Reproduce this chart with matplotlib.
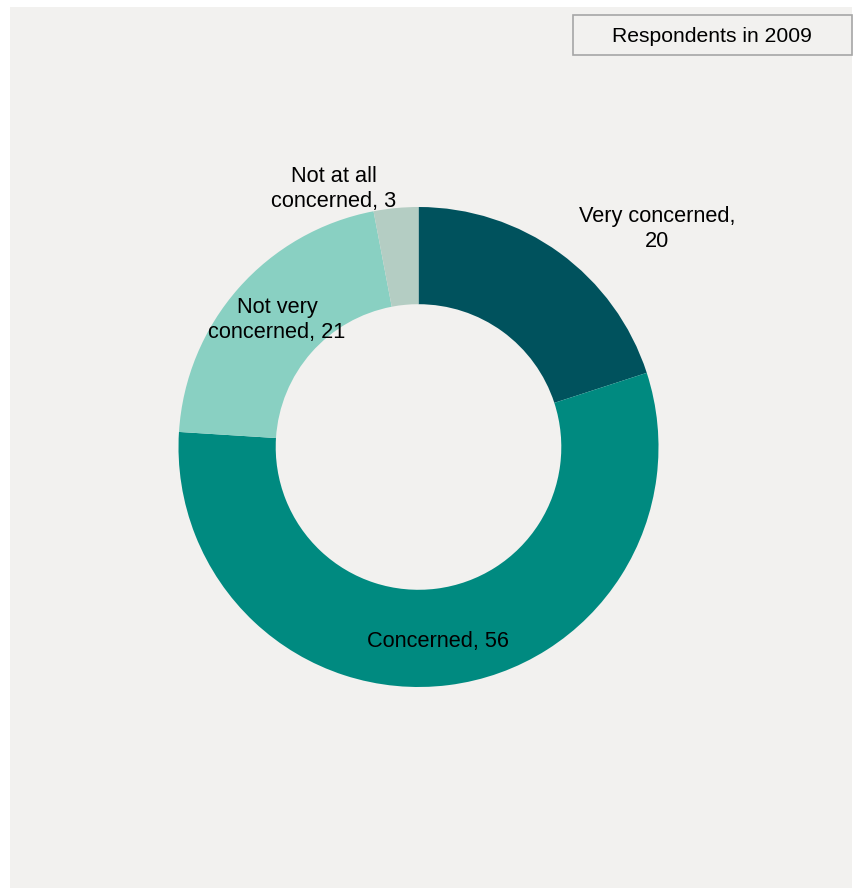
import matplotlib.pyplot as plt
from matplotlib.patches import Rectangle

plt.rcParams['font.family'] = ['Liberation Sans', 'DejaVu Sans']

# survey answers, 2009
categories = ['Very concerned', 'Concerned', 'Not very\nconcerned', 'Not at all\nconcerned']
values = [20, 56, 21, 3]
colors = ['#00525d', '#008a80', '#89d0c2', '#b4cdc3']
title = 'Respondents in 2009'

W, H = 854, 890
fig = plt.figure(figsize=(W / 100, H / 100), dpi=100)
fig.patch.set_facecolor('white')

# axes in pixel units, y counted upward
ax = fig.add_axes([0, 0, 1, 1])
ax.add_patch(Rectangle((10, 2), 842, 881, facecolor='#f2f1ef', edgecolor='none', zorder=0))

cx, cy, r = 418.5, H - 447, 240
wedges, _ = ax.pie(values, colors=colors, startangle=90, counterclock=False,
                   center=(cx, cy), radius=r, frame=True,
                   wedgeprops=dict(width=r * 0.405, edgecolor='none'))
ax.set_xlim(0, W)
ax.set_ylim(0, H)
ax.set_aspect('equal')
ax.axis('off')

# label positions (pixels from top-left)
label_pos = [(657, 229), (438, 641), (277, 320), (334, 189)]
for name, v, (x, y) in zip(categories, values, label_pos):
    if name == 'Very concerned':
        txt = f'{name},\n{v}'
    else:
        txt = f'{name}, {v}'
    ax.text(x, H - y, txt, ha='center', va='center', fontsize=15.7,
            color='black', linespacing=1.22, zorder=5)

ax.text(712, H - 37, title, ha='center', va='center', fontsize=15.2, zorder=5)
ax.add_patch(Rectangle((573, H - 55), 279, 40, facecolor='#f2f1ef',
                       edgecolor='#a6a6a6', linewidth=1.2, zorder=4))

fig.savefig('out.png', dpi=100)
